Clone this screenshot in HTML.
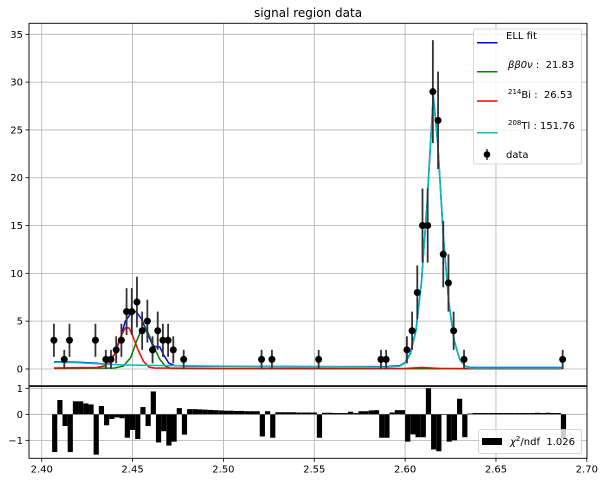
<!DOCTYPE html>
<html><head><meta charset="utf-8"><style>
body{margin:0;background:#fff;}
svg{display:block;font-family:"DejaVu Sans","Liberation Sans",sans-serif;}
text{white-space:pre;}
</style></head><body>
<svg id="fig" width="604" height="482" viewBox="0 0 604 482">
<text x="308" y="17" font-size="12" text-anchor="middle">signal region data</text>
<g id="main"></g>
<g id="resid"></g>
</svg>
<script>
// ---- data ----
const binCount = 105;
const binLow = 2.40, binHigh = 2.70;
const dataBins = [2,4,5,10,12,13,14,15,16,17,18,19,20,21,22,23,24,25,27,42,44,53,65,66,70,71,72,73,74,75,76,77,78,79,81,100];
const dataCounts = [3,1,3,3,1,1,2,3,6,6,7,4,5,2,4,3,3,2,1,1,1,1,1,1,2,4,8,15,15,29,26,12,9,4,1,1];
const residBins = [];
for (let j = 2; j <= 100; j++) residBins.push(j);
const residVals = [
-1.45,0.55,-0.45,-1.45,0.5,0.5,0.42,0.38,-1.55,0.32,
-0.42,-0.18,-0.12,-0.15,-0.9,-0.6,-0.95,0.28,-0.45,0.88,
-1.08,-0.65,-1.2,-1.05,0.24,-0.78,0.2,0.2,0.19,0.18,
0.17,0.16,0.15,0.14,0.14,0.13,0.13,0.12,0.12,0.12,
-0.85,0.12,-0.9,0.08,0.08,0.08,0.08,0.07,0.07,0.07,
0.07,-0.9,0.06,0.06,0.05,0.05,0.05,0.1,0.05,0.12,
0.12,0.15,0.16,-0.9,-0.9,0.07,0.16,0.16,-1.05,-0.77,
-0.88,-0.88,1.0,-1.35,-1.42,-0.02,-1.05,-1.0,0.6,-0.88,
0.03,0.05,0.05,0.05,0.05,0.05,0.05,0.05,0.05,0.05,
0.05,0.05,0.05,0.06,0.05,0.06,0.05,0.05,-0.92];
const yTicks = [0,5,10,15,20,25,30,35];
const rTicks = [1,0,-1];
const xTicks = [2.40,2.45,2.50,2.55,2.60,2.65,2.70];
const xTickLabels = ["2.40","2.45","2.50","2.55","2.60","2.65","2.70"];
// fit curves
const tlX = [2.4068,2.42,2.43,2.44,2.45,2.47,2.50,2.55,2.59,2.597,2.600,2.603,2.606,2.609,2.612,2.6155,2.618,2.621,2.624,2.627,2.630,2.633,2.636,2.65,2.6865];
const tlY = [0.7,0.65,0.55,0.45,0.4,0.35,0.3,0.25,0.2,0.3,0.6,1.6,4,9,17,28.5,23.5,14,7,3,1,0.3,0.1,0.1,0.1];
const biX = [2.4068,2.43,2.434,2.437,2.440,2.443,2.446,2.448,2.450,2.453,2.456,2.459,2.462,2.50,2.60,2.609,2.62,2.6865];
const biY = [0.1,0.15,0.3,0.6,1.5,3.2,4.3,4.3,3.5,2.0,0.8,0.2,0.1,0.06,0.05,0.15,0.05,0.05];
const bbX = [2.4068,2.44,2.445,2.449,2.452,2.455,2.457,2.459,2.462,2.465,2.468,2.471,2.50,2.6865];
const bbY = [0.05,0.1,0.3,1.2,2.8,4.2,4.4,3.6,2.2,1.0,0.3,0.05,0.02,0.02];
const ellX = [2.4068,2.42,2.43,2.435,2.440,2.443,2.446,2.449,2.452,2.455,2.458,2.461,2.463,2.465,2.467,2.470,2.473,2.48,2.55,2.59,2.597,2.600,2.603,2.606,2.609,2.612,2.6155,2.618,2.621,2.624,2.627,2.630,2.633,2.636,2.65,2.6865];
const ellY = [0.75,0.7,0.6,0.5,1.5,3.0,5.0,5.8,6.0,5.2,3.8,2.5,2.3,2.3,1.5,0.6,0.35,0.3,0.25,0.25,0.35,0.65,1.7,4.1,9.1,17.1,28.6,23.5,14,7,3,1,0.3,0.15,0.15,0.15];

// ---- axes ----
const X0 = 29, X1 = 587;
const xMin = 2.393, xMax = 2.7001;
const xs = v => X0 + (v - xMin) / (xMax - xMin) * (X1 - X0);
const MT = 23.3, MB = 385.7, yMin = -1.75, yMax = 36.15;
const ys = v => MB - (v - yMin) / (yMax - yMin) * (MB - MT);
const RT = 386.5, RB = 458.3, rMin = -1.69, rMax = 1.07;
const rs = v => RB - (v - rMin) / (rMax - rMin) * (RB - RT);
const binW = (binHigh - binLow) / binCount;
const binC = j => binLow + (j + 0.5) * binW;

const NS = "http://www.w3.org/2000/svg";
function mk(tag, attrs, parent) {
  const e = document.createElementNS(NS, tag);
  for (const k in attrs) e.setAttribute(k, attrs[k]);
  parent.appendChild(e);
  return e;
}
const main = document.getElementById('main');
const resid = document.getElementById('resid');

// grids
xTicks.forEach(t => {
  const g1 = mk('line', {x1: xs(t), x2: xs(t), y1: MT, y2: MB, stroke: '#b0b0b0', 'stroke-width': 0.8}, main);
  
  
  const g2 = mk('line', {x1: xs(t), x2: xs(t), y1: RT, y2: RB, stroke: '#b0b0b0', 'stroke-width': 0.8}, resid);
  
  
});
yTicks.forEach(t => {
  const g = mk('line', {x1: X0, x2: X1, y1: ys(t), y2: ys(t), stroke: '#b0b0b0', 'stroke-width': 0.8}, main);
  
  
  mk('line', {x1: X0 - 3.5, x2: X0, y1: ys(t), y2: ys(t), stroke: '#000', 'stroke-width': 0.8}, main);
  const tx = mk('text', {x: X0 - 6, y: ys(t) + 3.5, 'font-size': 10, 'text-anchor': 'end'}, main);
  tx.textContent = String(t);
  
  
});
rTicks.forEach(t => {
  const g = mk('line', {x1: X0, x2: X1, y1: rs(t), y2: rs(t), stroke: '#b0b0b0', 'stroke-width': 0.8}, resid);
  
  
  mk('line', {x1: X0 - 3.5, x2: X0, y1: rs(t), y2: rs(t), stroke: '#000', 'stroke-width': 0.8}, resid);
  const tx = mk('text', {x: X0 - 6, y: rs(t) + 3.5, 'font-size': 10, 'text-anchor': 'end'}, resid);
  tx.textContent = t < 0 ? '\u2212' + Math.abs(t) : String(t);
  
  
});
xTicks.forEach((t, i) => {
  mk('line', {x1: xs(t), x2: xs(t), y1: RB, y2: RB + 3.5, stroke: '#000', 'stroke-width': 0.8}, resid);
  const tx = mk('text', {x: xs(t), y: RB + 14, 'font-size': 10, 'text-anchor': 'middle'}, resid);
  tx.textContent = xTickLabels[i];
  
  
});

// curves
function curve(xa, ya, color, name) {
  const d = xa.map((x, i) => (i ? 'L' : 'M') + xs(x).toFixed(2) + ',' + ys(ya[i]).toFixed(2)).join(' ');
  const p = mk('path', {d: d, fill: 'none', stroke: color, 'stroke-width': 1.5}, main);
  
  
}
curve(ellX, ellY, '#0000ff', 'ell-fit-curve');
curve(bbX, bbY, '#008000', 'bb0v-curve');
curve(biX, biY, '#ff0000', 'bi214-curve');
curve(tlX, tlY, '#00bfbf', 'tl208-curve');

// data points
dataBins.forEach((j, i) => {
  const n = dataCounts[i], e = Math.sqrt(n), cx = xs(binC(j)) - 0.8;
  const l = mk('line', {x1: cx, x2: cx, y1: ys(n - e), y2: ys(n + e), stroke: '#333', 'stroke-width': 1.8}, main);
  
  
  const c = mk('circle', {cx: cx, cy: ys(n), r: 3.5, fill: '#000'}, main);
  
  
});

// residual bars
const bw = xs(binW) - xs(0);
residBins.forEach((j, i) => {
  const v = residVals[i], cx = xs(binC(j));
  const r = mk('rect', {x: cx - bw / 2, y: Math.min(rs(v), rs(0)), width: bw, height: Math.abs(rs(v) - rs(0)), fill: '#000'}, resid);
  
  
});

// frames
const f1 = mk('rect', {x: X0, y: MT, width: X1 - X0, height: MB - MT, fill: 'none', stroke: '#000', 'stroke-width': 0.9}, main);


const f2 = mk('rect', {x: X0, y: RT, width: X1 - X0, height: RB - RT, fill: 'none', stroke: '#000', 'stroke-width': 0.9}, resid);



// main legend
const lg = mk('g', {}, main);


mk('rect', {x: 473.5, y: 29, width: 108, height: 135, rx: 2, fill: 'rgba(255,255,255,0.8)', stroke: '#ccc', 'stroke-width': 0.8}, lg);
const entries = [
  ['#0000ff', 42.7, 39, 506, 'ELL fit', 'legend-ell-fit'],
  ['#008000', 71.7, 68, 508, '<tspan font-style="italic">\u03b2\u03b20\u03bd</tspan>\u00a0:\u00a0\u00a021.83', 'legend-bb0v'],
  ['#ff0000', 101, 98, 508, '<tspan font-size="7" dy="-4">214</tspan><tspan dy="4">Bi\u00a0:\u00a0\u00a026.53</tspan>', 'legend-bi214'],
  ['#00bfbf', 132.7, 129, 508, '<tspan font-size="7" dy="-4">208</tspan><tspan dy="4">Tl\u00a0:\u00a0151.76</tspan>', 'legend-tl208']
];
entries.forEach(en => {
  const l = mk('line', {x1: 477, x2: 497.5, y1: en[1], y2: en[1], stroke: en[0], 'stroke-width': 1.5}, lg);
  
  
  const t = mk('text', {x: en[3], y: en[2], 'font-size': 10}, lg);
  t.innerHTML = en[4];
  
  
});
mk('line', {x1: 487, x2: 487, y1: 149, y2: 160, stroke: '#333', 'stroke-width': 1.5}, lg);
mk('circle', {cx: 487, cy: 154.5, r: 3.3, fill: '#000'}, lg);
const dt = mk('text', {x: 506, y: 158, 'font-size': 10}, lg);
dt.textContent = 'data';



// residual legend
const rl = mk('g', {}, resid);


mk('rect', {x: 478.5, y: 429.5, width: 103, height: 24, rx: 2, fill: 'rgba(255,255,255,0.8)', stroke: '#ccc', 'stroke-width': 0.8}, rl);
mk('rect', {x: 482, y: 438, width: 20, height: 7, fill: '#000'}, rl);
const rt = mk('text', {x: 510, y: 445, 'font-size': 10}, rl);
rt.innerHTML = '<tspan font-style="italic">\u03c7</tspan><tspan font-size="7" dy="-4">2</tspan><tspan dy="4">/ndf\u00a0\u00a01.026</tspan>';


</script>
</body></html>
